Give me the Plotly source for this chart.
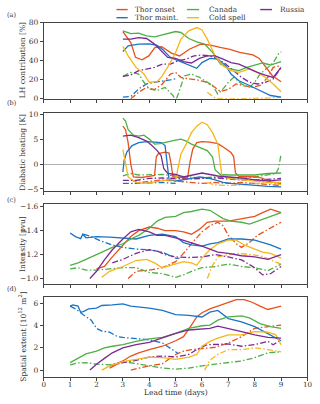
import plotly.graph_objects as go

# ---------------- data ----------------
categories = ["Thor onset", "Thor maint.", "Canada", "Cold spell", "Russia"]
colors = ["#e8501c", "#1a74c6", "#4eb045", "#f6b51c", "#7b2a94"]
x_ticks = list(range(0, 11))

# Panel (a): LH contribution [%]
lh_onset_solid_x = [3.0, 3.3, 3.48, 3.73, 3.98, 4.22, 4.47, 4.84, 5.15, 5.52, 5.95, 6.32, 6.69, 7.06, 7.43, 7.93, 8.17, 8.42, 8.67, 9.0]
lh_onset_solid_y = [70.6, 59, 43.5, 41, 45, 54, 54.6, 48, 45, 52, 57.4, 56.3, 54, 52, 48.7, 46, 42.4, 33, 24.3, 18]
lh_maint_solid_x = [3.0, 3.2, 3.6, 4.0, 4.3, 4.5, 4.8, 5.2, 5.5, 5.8, 6.0, 6.3, 6.6, 6.9, 7.1, 7.4, 7.8, 8.2, 8.6, 9.0]
lh_maint_solid_y = [49.7, 55.6, 57.4, 57.7, 56, 52, 43.5, 39, 34.8, 32, 38, 42.4, 41.7, 34.8, 26, 19, 14, 8.7, 3.5, 1.7]
lh_canada_solid_x = [3.0, 3.3, 3.6, 3.9, 4.2, 4.5, 4.8, 5.0, 5.2, 5.5, 5.8, 6.1, 6.4, 6.7, 7.0, 7.4, 7.7, 8.0, 8.3, 8.6, 9.0]
lh_canada_solid_y = [71.3, 68.5, 69, 66, 65, 66.8, 69, 70.6, 69.6, 63.3, 59.8, 57.4, 48.7, 36.5, 32, 29.6, 33, 35.5, 37.6, 35.5, 39]
lh_cold_solid_x = [3.0, 3.2, 3.5, 3.8, 4.0, 4.3, 4.5, 4.8, 5.0, 5.2, 5.5, 5.8, 6.0, 6.2, 6.5, 6.8, 7.1, 7.4, 7.8, 8.1, 8.4, 8.7, 9.0]
lh_cold_solid_y = [55, 45, 33, 26, 17.4, 18, 24.3, 38, 48.7, 62.6, 71.3, 74.8, 72.3, 62.6, 45, 34.8, 29.6, 27.8, 31.3, 27.8, 22.6, 15.6, 7.5]
lh_russia_solid_x = [3.0, 3.3, 3.6, 3.9, 4.2, 4.4, 4.7, 5.0, 5.3, 5.6, 5.9, 6.2, 6.5, 6.8, 7.1, 7.4, 7.8, 8.1, 8.4, 8.7, 9.0]
lh_russia_solid_y = [62.6, 62.6, 64.3, 63.3, 57.4, 52, 43.5, 42.4, 39, 37.6, 42.4, 45, 45, 41.7, 38, 36.5, 31.3, 27.8, 25, 22.5, 33]
lh_onset_dd_x = [3.3, 3.6, 3.9, 4.2, 4.5, 4.8, 5.0, 5.2, 5.5, 5.8, 6.1, 6.4, 6.7, 7.0, 7.3, 7.6, 7.9, 8.2, 8.5, 8.7, 9.0]
lh_onset_dd_y = [0, 7, 12, 9.7, 15.6, 26, 27.8, 22.6, 20.9, 20, 18, 14, 7.7, 10, 15.6, 14, 12, 14, 22.6, 33, 34.8]
lh_maint_dd_x = [3.0, 3.3, 3.6, 3.9, 4.2, 4.5, 4.8, 5.0]
lh_maint_dd_y = [1.7, 2.4, 10.4, 15.6, 17.4, 18.4, 20, 21]
lh_canada_dd_x = [3.0, 3.3, 3.6, 3.8, 4.0, 4.3, 4.6, 4.9, 5.0, 5.1, 5.33, 5.6, 5.9, 6.1, 6.4, 6.6, 6.8, 7.0, 7.2, 7.5, 7.8, 8.0, 8.2, 8.5, 8.7, 8.9, 9.0]
lh_canada_dd_y = [23.6, 27.8, 26, 17.4, 10.4, 8.7, 12, 3.5, -2, 5, 24, 26, 22.6, 19, 14, 5.2, 10.4, 17.4, 22.6, 15.6, 12, 17.4, 26, 33, 38, 47, 49.4]
lh_cold_dd_x = [6.2, 6.5, 7.0, 7.5, 8.0, 8.5, 9.0]
lh_cold_dd_y = [7, 0.7, 0, 0.3, 0, 0.7, 1.7]
lh_russia_dd_x = [3.0, 3.3, 3.6, 3.9, 4.2, 4.5, 4.8, 5.1, 5.4, 5.7, 6.0, 6.3, 6.6, 6.9, 7.2, 7.5, 7.8, 8.1, 8.4, 8.7, 9.0]
lh_russia_dd_y = [23.6, 25, 29.6, 31.3, 33, 36.5, 36.5, 40, 41.7, 45, 46, 45, 41.7, 36.5, 29.6, 22.6, 17.4, 15.6, 17.4, 20.9, 33]

# Panel (b): Diabatic heating [K]
dh_onset_solid_x = [3.0, 3.1, 3.2, 3.3, 3.4, 3.7, 4.0, 4.2, 4.27, 4.35, 4.6, 4.75, 4.83, 4.9, 5.2, 5.45, 5.55, 5.65, 5.8, 6.0, 6.3, 6.6, 6.75, 6.9, 7.1, 7.2, 7.27, 7.4, 7.8, 8.1, 8.3, 8.6, 9.0]
dh_onset_solid_y = [7.6, 6.9, 4.3, 0, -2.6, -2.7, -2.5, -2.3, 1.5, 2.1, 2.4, 2.2, 0, -2.6, -2.7, -2.8, 0.5, 3.0, 4.3, 4.5, 4.4, 4.1, 3.6, 3.0, 2.3, 1.5, -1.8, -2.5, -2.6, -2.6, -2.9, -3.6, -3.9]
dh_maint_solid_x = [3.0, 3.05, 3.15, 3.35, 3.6, 3.9, 4.2, 4.45, 4.6, 4.68, 4.75, 5.0, 5.3, 5.6, 5.9, 6.2, 6.5, 6.8, 7.1, 7.5, 8.0, 8.5, 9.0]
dh_maint_solid_y = [-1.6, 0.8, 2.4, 3.7, 4.3, 4.5, 4.4, 4.3, 3.7, 0, -3.1, -3.4, -3.2, -2.9, -2.6, -2.8, -3.2, -3.7, -3.9, -4.1, -4.3, -4.5, -4.6]
dh_canada_solid_x = [3.0, 3.1, 3.2, 3.4, 3.6, 3.8, 4.0, 4.2, 4.4, 4.7, 5.0, 5.2, 5.4, 5.6, 5.9, 6.2, 6.4, 6.5, 6.7, 7.0, 7.5, 8.0, 8.5, 9.0]
dh_canada_solid_y = [9.2, 8.6, 6.9, 5.8, 5.6, 5.8, 5.0, 4.0, 4.1, 4.5, 4.8, 5.0, 4.6, 4.0, 3.3, 2.7, 1.4, -1.2, -2.1, -2.2, -2.2, -2.2, -1.9, -1.8]
dh_cold_solid_x = [3.0, 3.1, 3.2, 3.5, 3.8, 4.1, 4.4, 4.7, 5.0, 5.1, 5.2, 5.4, 5.6, 5.8, 6.0, 6.2, 6.4, 6.6, 6.7, 6.75, 7.0, 7.5, 8.0, 8.5, 9.0]
dh_cold_solid_y = [2.9, 0.4, -2.6, -3.7, -3.9, -3.7, -3.4, -3.2, -3.2, -0.9, 2.0, 4.0, 6.3, 7.6, 8.4, 7.9, 6.3, 4.0, 0.4, -2.2, -2.9, -3.2, -3.4, -3.7, -3.7]
dh_russia_solid_x = [3.0, 3.3, 3.6, 3.9, 4.1, 4.3, 4.45, 4.55, 4.7, 5.0, 5.3, 5.6, 6.0, 6.3, 6.6, 7.0, 7.5, 8.0, 8.5, 9.0]
dh_russia_solid_y = [5.6, 5.8, 5.3, 4.6, 3.7, 2.7, 1.7, -0.9, -1.9, -2.1, -2.6, -2.2, -1.8, -2.1, -2.4, -2.6, -2.8, -3.2, -3.4, -3.2]
dh_onset_dd_x = [3.3, 3.6, 4.0, 4.5, 5.0, 5.5, 6.0, 6.5, 7.0, 7.5, 8.0, 8.5, 9.0]
dh_onset_dd_y = [-3.2, -3.7, -3.5, -3.2, -3.4, -3.7, -3.9, -3.7, -3.9, -3.7, -3.9, -4.1, -4.3]
dh_maint_dd_x = [3.0, 3.5, 4.0, 4.5, 5.0]
dh_maint_dd_y = [-3.9, -3.9, -3.8, -3.7, -3.9]
dh_canada_dd_x = [3.0, 3.3, 3.6, 4.0, 4.5, 5.0, 5.5, 6.0, 6.5, 7.0, 7.5, 8.0, 8.5, 8.8, 8.9, 9.0]
dh_canada_dd_y = [-2.4, -1.9, -2.2, -2.2, -2.1, -2.4, -2.6, -2.8, -2.6, -2.8, -2.9, -2.6, -2.1, -1.9, -0.9, 2.0]
dh_cold_dd_x = [6.2, 6.5, 7.0, 7.5, 8.0, 8.5, 9.0]
dh_cold_dd_y = [-3.7, -4.2, -4.3, -4.2, -3.9, -3.7, -4.1]
dh_russia_dd_x = [3.0, 3.5, 4.0, 4.5, 5.0, 5.5, 6.0, 6.5, 7.0, 7.5, 8.0, 8.5, 9.0]
dh_russia_dd_y = [-3.3, -3.3, -2.9, -2.8, -2.9, -3.0, -2.9, -2.8, -3.0, -3.2, -3.2, -3.0, -2.9]

# Panel (c): Intensity [pvu]
in_onset_solid_x = [2.0, 2.3, 2.6, 3.0, 3.3, 3.6, 4.0, 4.3, 4.6, 5.0, 5.3, 5.6, 5.9, 6.2, 6.5, 7.0, 7.5, 8.0, 8.3, 8.6, 9.0]
in_onset_solid_y = [-1.08, -1.10, -1.18, -1.28, -1.35, -1.40, -1.43, -1.42, -1.40, -1.40, -1.39, -1.37, -1.41, -1.47, -1.48, -1.48, -1.50, -1.52, -1.55, -1.58, -1.55]
in_maint_solid_x = [1.0, 1.2, 1.4, 1.48, 1.6, 2.0, 2.5, 3.0, 3.5, 4.0, 4.5, 5.0, 5.3, 5.6, 6.0, 6.3, 6.6, 7.0, 7.5, 8.0, 8.3, 8.6, 9.0]
in_maint_solid_y = [-1.38, -1.35, -1.333, -1.37, -1.34, -1.35, -1.345, -1.34, -1.33, -1.36, -1.37, -1.35, -1.30, -1.28, -1.27, -1.29, -1.30, -1.33, -1.33, -1.32, -1.30, -1.28, -1.245]
in_canada_solid_x = [1.0, 1.3, 1.6, 2.0, 2.3, 2.6, 3.0, 3.3, 3.6, 4.0, 4.3, 4.6, 5.0, 5.3, 5.6, 6.0, 6.3, 6.5, 6.8, 7.1, 7.5, 7.8, 8.1, 8.5, 9.0]
in_canada_solid_y = [-1.11, -1.13, -1.16, -1.20, -1.23, -1.26, -1.29, -1.33, -1.36, -1.42, -1.48, -1.51, -1.52, -1.55, -1.56, -1.58, -1.57, -1.54, -1.50, -1.48, -1.47, -1.455, -1.48, -1.51, -1.55]
in_cold_solid_x = [2.2, 2.5, 3.0, 3.5, 3.9, 4.2, 4.5, 4.8, 5.0, 5.3, 5.6, 5.8, 6.0, 6.3, 6.6, 7.0, 7.3, 7.6, 8.0, 8.3, 8.6, 9.0]
in_cold_solid_y = [-1.01, -1.06, -1.10, -1.15, -1.16, -1.13, -1.09, -1.11, -1.12, -1.14, -1.13, -1.11, -1.17, -1.24, -1.29, -1.32, -1.32, -1.28, -1.245, -1.22, -1.21, -1.17]
in_russia_solid_x = [1.75, 2.0, 2.3, 2.6, 3.0, 3.3, 3.6, 4.0, 4.3, 4.6, 5.0, 5.3, 5.6, 6.0, 6.3, 6.6, 7.0, 7.5, 8.0, 8.5, 9.0]
in_russia_solid_y = [-1.0, -1.06, -1.155, -1.24, -1.33, -1.39, -1.41, -1.39, -1.36, -1.36, -1.34, -1.32, -1.30, -1.27, -1.245, -1.22, -1.21, -1.19, -1.18, -1.16, -1.20]
in_onset_dd_x = [3.2, 3.5, 4.0, 4.5, 5.0, 5.3, 5.6, 6.0, 6.3, 6.6, 6.8, 7.0, 7.3, 7.5, 7.8, 8.1, 8.5, 9.0]
in_onset_dd_y = [-1.0, -1.06, -1.07, -1.09, -1.14, -1.21, -1.29, -1.39, -1.44, -1.47, -1.44, -1.36, -1.29, -1.26, -1.30, -1.36, -1.41, -1.47]
in_maint_dd_x = [1.5, 1.8, 2.2, 2.6, 3.0, 3.5, 4.0, 4.5, 5.0, 5.1]
in_maint_dd_y = [-1.37, -1.35, -1.31, -1.28, -1.26, -1.245, -1.24, -1.22, -1.17, -1.165]
in_canada_dd_x = [1.0, 1.3, 1.6, 2.0, 2.5, 3.0, 3.5, 4.0, 4.5, 5.0, 5.3, 5.6, 6.0, 6.5, 7.0, 7.5, 8.0, 8.5, 9.0]
in_canada_dd_y = [-1.08, -1.09, -1.07, -1.07, -1.08, -1.09, -1.09, -1.05, -1.04, -1.01, -1.03, -1.06, -1.09, -1.10, -1.12, -1.10, -1.09, -1.065, -1.12]
in_cold_dd_x = [6.2, 6.4, 6.6, 7.0, 7.4, 7.8, 8.2, 8.6, 9.0]
in_cold_dd_y = [-1.0, -1.11, -1.18, -1.20, -1.21, -1.20, -1.19, -1.155, -1.12]
in_russia_dd_x = [2.6, 3.0, 3.5, 4.0, 4.3, 4.6, 5.0, 5.5, 6.0, 6.5, 7.0, 7.5, 8.0, 8.3, 8.6, 9.0]
in_russia_dd_y = [-1.13, -1.16, -1.21, -1.24, -1.23, -1.20, -1.18, -1.175, -1.18, -1.20, -1.18, -1.155, -1.09, -1.03, -1.04, -1.10]

# Panel (d): Spatial extent [10^12 m^2]
se_onset_solid_x = [2.5, 2.8, 3.0, 3.3, 3.6, 4.0, 4.5, 5.0, 5.3, 5.6, 5.8, 6.0, 6.3, 6.6, 7.0, 7.3, 7.6, 7.9, 8.2, 8.5, 8.7, 9.0]
se_onset_solid_y = [0.18, 0.53, 0.82, 1.26, 1.55, 1.84, 2.14, 2.63, 3.0, 4.04, 4.77, 5.15, 5.5, 5.74, 6.09, 6.32, 6.32, 6.09, 5.74, 5.44, 5.56, 5.74]
se_maint_solid_x = [1.0, 1.1, 1.3, 1.4, 1.5, 1.7, 2.0, 2.2, 2.6, 3.0, 3.3, 3.7, 4.0, 4.5, 5.0, 5.5, 6.0, 6.3, 6.6, 7.0, 7.5, 8.0, 8.5, 9.0]
se_maint_solid_y = [5.74, 5.85, 5.74, 5.2, 5.25, 5.5, 5.56, 5.8, 5.85, 5.94, 5.74, 5.65, 5.56, 5.36, 4.97, 4.92, 4.77, 5.2, 5.36, 4.62, 4.33, 3.9, 3.3, 2.63]
se_canada_solid_x = [1.0, 1.3, 1.6, 2.0, 2.3, 2.6, 3.0, 3.5, 4.0, 4.5, 5.0, 5.5, 6.0, 6.3, 6.6, 7.0, 7.5, 7.8, 8.2, 8.6, 9.0]
se_canada_solid_y = [0.67, 1.1, 1.46, 1.7, 2.0, 2.14, 2.28, 2.58, 2.8, 2.93, 3.3, 3.75, 3.98, 4.04, 4.48, 4.77, 4.86, 4.68, 4.18, 3.9, 3.75]
se_cold_solid_x = [2.2, 2.5, 3.0, 3.5, 4.0, 4.5, 5.0, 5.5, 5.8, 6.0, 6.3, 6.6, 7.0, 7.5, 8.0, 8.5, 8.8, 9.0]
se_cold_solid_y = [0.0, 0.38, 0.76, 0.97, 1.17, 1.11, 0.97, 1.17, 1.4, 2.14, 2.58, 2.87, 3.16, 3.16, 3.45, 3.4, 3.16, 2.28]
se_russia_solid_x = [1.75, 2.0, 2.3, 2.6, 3.0, 3.5, 4.0, 4.5, 5.0, 5.5, 6.0, 6.3, 6.6, 7.0, 7.5, 8.0, 8.5, 9.0]
se_russia_solid_y = [0.0, 0.53, 1.05, 1.55, 2.0, 2.28, 2.49, 2.87, 3.3, 3.6, 3.66, 3.75, 3.95, 3.75, 3.45, 3.16, 2.93, 2.87]
se_onset_dd_x = [3.3, 3.6, 4.0, 4.5, 5.0, 5.3, 5.6, 6.0, 6.5, 7.0, 7.5, 8.0, 8.5, 9.0]
se_onset_dd_y = [0.0, 0.18, 0.38, 0.58, 1.4, 1.7, 1.84, 1.93, 2.05, 2.43, 3.0, 3.75, 3.9, 4.04]
se_maint_dd_x = [1.0, 1.2, 1.5, 1.8, 2.0, 2.2, 2.5, 2.8, 3.0, 3.5, 4.0, 4.5, 4.8, 5.0, 5.1]
se_maint_dd_y = [5.74, 5.5, 4.97, 4.48, 3.75, 3.5, 3.4, 3.0, 2.93, 2.8, 2.72, 2.43, 2.0, 1.64, 1.46]
se_canada_dd_x = [1.0, 1.3, 1.6, 2.0, 2.5, 3.0, 3.5, 4.0, 4.5, 5.0, 5.5, 6.0, 6.5, 7.0, 7.5, 8.0, 8.5, 9.0]
se_canada_dd_y = [0.47, 0.64, 0.67, 0.53, 0.47, 0.76, 0.58, 0.38, 0.18, 0.09, 0.18, 0.38, 0.53, 0.67, 0.82, 1.11, 1.55, 1.64]
se_cold_dd_x = [6.1, 6.3, 6.6, 7.0, 7.5, 8.0, 8.5, 9.0]
se_cold_dd_y = [0.0, 0.88, 1.4, 1.84, 1.84, 2.0, 1.84, 1.64]
se_russia_dd_x = [2.5, 3.0, 3.5, 4.0, 4.5, 5.0, 5.5, 5.8, 6.2, 6.6, 7.0, 7.5, 8.0, 8.5, 8.7, 9.0]
se_russia_dd_y = [0.38, 0.67, 0.88, 1.17, 1.26, 1.17, 1.4, 1.84, 2.28, 2.34, 2.34, 2.14, 2.28, 2.58, 2.28, 2.72]

panel_titles = ["LH contribution [%]", "Diabatic heating [K]", "Intensity [pvu]",
                "Spatial extent [10<sup>12</sup> m<sup>2</sup>]"]
panel_letters = ["(a)", "(b)", "(c)", "(d)"]
x_title = "Lead time (days)"

panels = [
    ([(lh_onset_solid_x, lh_onset_solid_y), (lh_maint_solid_x, lh_maint_solid_y), (lh_canada_solid_x, lh_canada_solid_y),
      (lh_cold_solid_x, lh_cold_solid_y), (lh_russia_solid_x, lh_russia_solid_y)],
     [(lh_onset_dd_x, lh_onset_dd_y), (lh_maint_dd_x, lh_maint_dd_y), (lh_canada_dd_x, lh_canada_dd_y),
      (lh_cold_dd_x, lh_cold_dd_y), (lh_russia_dd_x, lh_russia_dd_y)]),
    ([(dh_onset_solid_x, dh_onset_solid_y), (dh_maint_solid_x, dh_maint_solid_y), (dh_canada_solid_x, dh_canada_solid_y),
      (dh_cold_solid_x, dh_cold_solid_y), (dh_russia_solid_x, dh_russia_solid_y)],
     [(dh_onset_dd_x, dh_onset_dd_y), (dh_maint_dd_x, dh_maint_dd_y), (dh_canada_dd_x, dh_canada_dd_y),
      (dh_cold_dd_x, dh_cold_dd_y), (dh_russia_dd_x, dh_russia_dd_y)]),
    ([(in_onset_solid_x, in_onset_solid_y), (in_maint_solid_x, in_maint_solid_y), (in_canada_solid_x, in_canada_solid_y),
      (in_cold_solid_x, in_cold_solid_y), (in_russia_solid_x, in_russia_solid_y)],
     [(in_onset_dd_x, in_onset_dd_y), (in_maint_dd_x, in_maint_dd_y), (in_canada_dd_x, in_canada_dd_y),
      (in_cold_dd_x, in_cold_dd_y), (in_russia_dd_x, in_russia_dd_y)]),
    ([(se_onset_solid_x, se_onset_solid_y), (se_maint_solid_x, se_maint_solid_y), (se_canada_solid_x, se_canada_solid_y),
      (se_cold_solid_x, se_cold_solid_y), (se_russia_solid_x, se_russia_solid_y)],
     [(se_onset_dd_x, se_onset_dd_y), (se_maint_dd_x, se_maint_dd_y), (se_canada_dd_x, se_canada_dd_y),
      (se_cold_dd_x, se_cold_dd_y), (se_russia_dd_x, se_russia_dd_y)]),
]

# ---------------- layout helpers ----------------
W, H = 320, 404
FONT = "DejaVu Serif"
AX = "#444444"
TXT = "#333333"
x_left, x_right = 42.7, 312.3
panel_px = [(19, 97), (111.7, 191.7), (205, 286.7), (299.7, 381.7)]
y_ranges = [[0, 80], [-5.5, 10.2], [-0.951, -1.619], [-0.64, 6.56]]
y_tickvals = [[0, 20, 40, 60, 80], [-5, 0, 5, 10], [-1.6, -1.4, -1.2, -1.0], [0, 2, 4, 6]]
y_tickfmt = ["d", "d", ".1f", "d"]
letter_py = [11, 101.7, 200.7, 291]

DASHDOT = "6px,2.2px,1.5px,2.2px"

fig = go.Figure()
for p, (solids, dds) in enumerate(panels):
    xa = "x" if p == 0 else f"x{p+1}"
    ya = "y" if p == 0 else f"y{p+1}"
    for k, (xs, ys) in enumerate(dds):
        fig.add_trace(go.Scatter(x=xs, y=ys, mode="lines", xaxis=xa, yaxis=ya, showlegend=False,
                                 name=categories[k],
                                 line=dict(color=colors[k], width=1.3, dash=DASHDOT)))
    for k, (xs, ys) in enumerate(solids):
        fig.add_trace(go.Scatter(x=xs, y=ys, mode="lines", xaxis=xa, yaxis=ya, showlegend=False,
                                 name=categories[k],
                                 line=dict(color=colors[k], width=1.3)))

layout = dict(width=W, height=H, margin=dict(l=0, r=0, t=0, b=0),
              paper_bgcolor="white", plot_bgcolor="white",
              font=dict(family=FONT, size=7, color=TXT), showlegend=False)
for p in range(4):
    top, bot = panel_px[p]
    xkey = "xaxis" if p == 0 else f"xaxis{p+1}"
    ykey = "yaxis" if p == 0 else f"yaxis{p+1}"
    ya = "y" if p == 0 else f"y{p+1}"
    xa = "x" if p == 0 else f"x{p+1}"
    layout[xkey] = dict(domain=[x_left / W, x_right / W], anchor=ya, range=[0, 10],
                        tickvals=x_ticks, showticklabels=(p == 3), ticks="outside", ticklen=3,
                        tickcolor=AX, tickwidth=0.8, showline=True, mirror=True, linecolor=AX, linewidth=0.9,
                        showgrid=False, zeroline=False, tickfont=dict(size=7.2, color=TXT),
                        ticklabelstandoff=-3)
    layout[ykey] = dict(domain=[1 - bot / H, 1 - top / H], anchor=xa, range=y_ranges[p],
                        tickvals=y_tickvals[p], tickformat=y_tickfmt[p], ticks="outside", ticklen=3,
                        tickcolor=AX, tickwidth=0.8, showline=True, mirror=True, linecolor=AX, linewidth=0.9,
                        showgrid=False, zeroline=(p == 1), zerolinecolor="#b0b0b0", zerolinewidth=1.2,
                        tickfont=dict(size=7.5, color=TXT))
fig.update_layout(**layout)

# y-axis titles and panel letters
for p in range(4):
    top, bot = panel_px[p]
    fig.add_annotation(x=21 / W, y=1 - (top + bot) / 2 / H, xref="paper", yref="paper", text=panel_titles[p],
                       textangle=-90, showarrow=False, xanchor="center", yanchor="middle",
                       font=dict(size=7.5, color=TXT))
    fig.add_annotation(x=3 / W, y=1 - letter_py[p] / H, xref="paper", yref="paper", text=panel_letters[p],
                       showarrow=False, xanchor="left", yanchor="middle", font=dict(size=6.5, color=TXT))

# x-axis title
fig.add_annotation(x=(x_left + x_right) / 2 / W, y=1 - 397.5 / H, xref="paper", yref="paper", text=x_title,
                   showarrow=False, xanchor="center", yanchor="middle", borderpad=0,
                   font=dict(size=7.5, color=TXT))

# legend (matplotlib-style, 3 columns, column-major order)
leg_cols = [(117, 128.5, 134), (189, 201.5, 210), (264, 276, 282)]
leg_rows = [5.7, 14]
for k, name in enumerate(categories):
    c, r = k // 2, k % 2
    x0, x1, xt = leg_cols[c]
    yy = 1 - leg_rows[r] / H
    fig.add_shape(type="line", xref="paper", yref="paper", x0=x0 / W, x1=x1 / W, y0=yy, y1=yy,
                  line=dict(color=colors[k], width=1.4))
    fig.add_annotation(x=xt / W, y=yy, xref="paper", yref="paper", text=name, showarrow=False,
                       xanchor="left", yanchor="middle", font=dict(size=7.3, color=TXT))

fig.write_html("out.html", config={"displayModeBar": False},
               post_script="document.body.style.margin='0';document.body.style.padding='0';")
